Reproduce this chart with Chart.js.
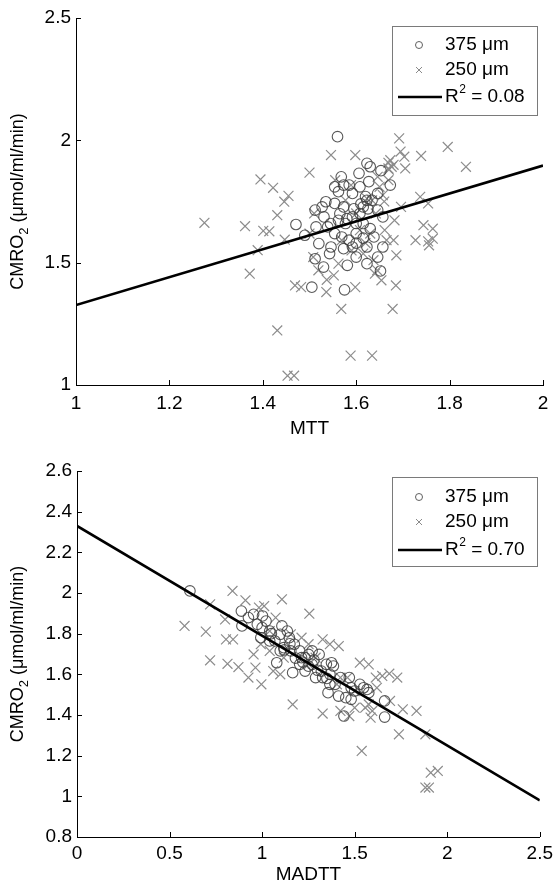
<!DOCTYPE html>
<html>
<head>
<meta charset="utf-8">
<script src="https://cdn.jsdelivr.net/npm/chart.js@4.4.1/dist/chart.umd.min.js"></script>
<style>
  html, body { margin: 0; padding: 0; background: #fff; }
  #wrap { position: relative; width: 558px; height: 888px; }
  canvas { position: absolute; left: 0; }
</style>
</head>
<body>
<div id="wrap">
  <canvas id="chart-mtt" width="558" height="444" style="top:0"></canvas>
  <canvas id="chart-madtt" width="558" height="444" style="top:444px"></canvas>
</div>
<script>
// --- data ---
var legendLabels = ['375 \u03bcm', '250 \u03bcm'];
var r2Values = ['0.08', '0.70'];
var xTitles = ['MTT', 'MADTT'];

var mttTicks = [1, 1.2, 1.4, 1.6, 1.8, 2];
var mttCmroTicks = [1, 1.5, 2, 2.5];
var madttTicks = [0, 0.5, 1, 1.5, 2, 2.5];
var madttCmroTicks = [0.8, 1, 1.2, 1.4, 1.6, 1.8, 2, 2.2, 2.4, 2.6];

// top panel, 375 um (circles)
var mtt375X = [1.560, 1.623, 1.630, 1.606, 1.653, 1.673, 1.627, 1.568, 1.573, 1.554, 1.562, 1.585, 1.592, 1.608,
  1.646, 1.623, 1.615, 1.608, 1.573, 1.554, 1.535, 1.527, 1.512, 1.471, 1.490, 1.514, 1.531, 1.539, 1.562, 1.577,
  1.592, 1.615, 1.630, 1.657, 1.646, 1.520, 1.546, 1.569, 1.573, 1.592, 1.600, 1.623, 1.623, 1.646, 1.657, 1.652,
  1.512, 1.530, 1.581, 1.543, 1.505, 1.575, 1.585, 1.600, 1.554, 1.638, 1.634, 1.595, 1.610, 1.620, 1.600, 1.580,
  1.565, 1.545, 1.600, 1.615, 1.625];
var mtt375Y = [2.015, 1.906, 1.892, 1.865, 1.876, 1.817, 1.831, 1.851, 1.817, 1.810, 1.790, 1.817, 1.783, 1.810,
  1.783, 1.755, 1.728, 1.701, 1.728, 1.742, 1.749, 1.728, 1.715, 1.656, 1.612, 1.646, 1.687, 1.646, 1.673, 1.660,
  1.687, 1.660, 1.639, 1.687, 1.715, 1.578, 1.564, 1.605, 1.557, 1.564, 1.523, 1.564, 1.496, 1.523, 1.564, 1.466,
  1.516, 1.482, 1.489, 1.537, 1.400, 1.389, 1.592, 1.619, 1.619, 1.605, 1.755, 1.720, 1.740, 1.770, 1.660, 1.680,
  1.700, 1.660, 1.580, 1.600, 1.720];

// top panel, 250 um (crosses)
var mtt250X = [1.692, 1.796, 1.835, 1.739, 1.695, 1.703, 1.673, 1.669, 1.705, 1.598, 1.546, 1.500, 1.395, 1.422,
  1.455, 1.446, 1.431, 1.362, 1.275, 1.401, 1.414, 1.447, 1.389, 1.372, 1.469, 1.482, 1.537, 1.536, 1.552, 1.568,
  1.598, 1.519, 1.431, 1.588, 1.634, 1.453, 1.467, 1.678, 1.685, 1.640, 1.654, 1.686, 1.727, 1.754, 1.756, 1.764,
  1.764, 1.744, 1.754, 1.737, 1.682, 1.680, 1.696, 1.665, 1.661, 1.657, 1.650, 1.669, 1.646, 1.669, 1.676, 1.634,
  1.642, 1.623, 1.630, 1.637, 1.645, 1.569, 1.562, 1.508, 1.510, 1.555, 1.589, 1.600, 1.608, 1.577, 1.500, 1.615,
  1.670, 1.680, 1.660, 1.620, 1.590];
var mtt250Y = [2.008, 1.973, 1.892, 1.936, 1.954, 1.933, 1.919, 1.908, 1.885, 1.940, 1.940, 1.868, 1.840, 1.806,
  1.773, 1.749, 1.694, 1.649, 1.663, 1.630, 1.628, 1.594, 1.551, 1.455, 1.407, 1.400, 1.430, 1.380, 1.448, 1.311,
  1.400, 1.469, 1.223, 1.120, 1.120, 1.038, 1.038, 1.311, 1.407, 1.455, 1.428, 1.530, 1.592, 1.587, 1.571, 1.598,
  1.639, 1.653, 1.742, 1.769, 1.673, 1.592, 1.728, 1.592, 1.633, 1.776, 1.810, 1.837, 1.851, 1.885, 1.892, 1.755,
  1.701, 1.762, 1.619, 1.510, 1.469, 1.592, 1.496, 1.523, 1.701, 1.837, 1.817, 1.701, 1.633, 1.755, 1.619, 1.537,
  1.880, 1.900, 1.750, 1.580, 1.550];

// bottom panel, 375 um (circles)
var madtt375X = [0.610, 0.888, 0.891, 0.926, 0.954, 0.974, 1.002, 1.021, 0.993, 1.041, 1.069, 1.098, 1.136, 1.147,
  1.117, 1.079, 1.155, 1.174, 1.203, 1.165, 1.203, 1.232, 1.251, 1.270, 1.289, 1.308, 1.320, 1.347, 1.375, 1.385,
  1.366, 1.366, 1.394, 1.356, 1.423, 1.471, 1.481, 1.452, 1.481, 1.528, 1.548, 1.576, 1.442, 1.662, 1.662, 1.567,
  1.041, 1.098, 1.213, 1.270, 1.107, 1.413, 1.327, 1.232, 1.500, 1.120, 1.180, 1.220, 1.250, 1.150, 1.300, 1.350,
  1.050, 1.000, 1.280];
var madtt375Y = [2.010, 1.911, 1.838, 1.879, 1.895, 1.846, 1.887, 1.862, 1.780, 1.813, 1.764, 1.797, 1.813, 1.780,
  1.731, 1.657, 1.715, 1.748, 1.715, 1.608, 1.649, 1.682, 1.698, 1.649, 1.584, 1.698, 1.616, 1.649, 1.657, 1.641,
  1.600, 1.551, 1.551, 1.510, 1.584, 1.584, 1.534, 1.485, 1.477, 1.551, 1.534, 1.510, 1.395, 1.469, 1.390, 1.526,
  1.764, 1.715, 1.682, 1.715, 1.838, 1.493, 1.584, 1.616, 1.518, 1.720, 1.680, 1.660, 1.640, 1.750, 1.620, 1.580,
  1.800, 1.830, 1.670];

// bottom panel, 250 um (crosses)
var madtt250X = [0.840, 0.581, 0.696, 0.719, 0.800, 0.805, 0.719, 0.813, 0.843, 0.910, 0.872, 0.964, 0.996, 0.954,
  0.993, 1.107, 1.073, 0.983, 1.011, 1.060, 1.098, 1.165, 1.255, 1.327, 1.327, 1.414, 1.366, 1.423, 1.471, 1.528,
  1.576, 1.538, 1.500, 1.557, 1.586, 1.595, 1.620, 1.649, 1.687, 1.730, 1.691, 1.739, 1.760, 1.834, 1.882, 1.911,
  1.949, 1.882, 1.901, 1.576, 1.461, 1.251, 1.213, 1.155, 1.041, 1.289, 1.404, 1.500, 0.926, 1.041, 1.117, 1.614,
  1.423, 1.251];
var madtt250Y = [2.010, 1.838, 1.810, 1.944, 1.870, 1.772, 1.669, 1.652, 1.772, 1.964, 1.636, 1.633, 1.551, 1.698,
  1.748, 1.969, 1.879, 1.928, 1.936, 1.616, 1.600, 1.452, 1.898, 1.772, 1.407, 1.739, 1.748, 1.420, 1.395, 1.657,
  1.649, 1.223, 1.436, 1.436, 1.387, 1.420, 1.534, 1.592, 1.603, 1.584, 1.469, 1.305, 1.428, 1.420, 1.305, 1.116,
  1.125, 1.043, 1.043, 1.452, 1.584, 1.748, 1.780, 1.797, 1.715, 1.682, 1.551, 1.518, 1.584, 1.813, 1.682, 1.584,
  1.584, 1.649];

// fitted lines (end points)
var mttFitX = [1, 2];
var mttFitY = [1.327, 1.897];
var madttFitX = [0, 2.5];
var madttFitY = [2.33, 0.98];

// --- helpers ---
var FONT = "'Liberation Sans', Arial, Helvetica, sans-serif";
var TEXT_SIZE = 19;

function toPoints(xs, ys) {
  return xs.map(function (x, i) { return { x: x, y: ys[i] }; });
}

function fmtTick(v) {
  return String(Number(v.toFixed(2)));
}

function fixedTicks(values) {
  return function (scale) {
    scale.ticks = values.map(function (v) { return { value: v }; });
  };
}

// inward ticks, rotated y title with subscript, boxed legend
var panelDecor = {
  id: 'panelDecor',
  afterDraw: function (chart, args, opts) {
    var ctx = chart.ctx;
    var area = chart.chartArea;
    var xs = chart.scales.x;
    var ys = chart.scales.y;
    ctx.save();

    ctx.strokeStyle = '#000';
    ctx.lineWidth = 1;
    ctx.beginPath();
    xs.ticks.forEach(function (t) {
      var px = Math.round(xs.getPixelForValue(t.value)) + 0.5;
      ctx.moveTo(px, area.bottom);
      ctx.lineTo(px, area.bottom - 5);
    });
    ys.ticks.forEach(function (t) {
      var py = Math.round(ys.getPixelForValue(t.value)) + 0.5;
      ctx.moveTo(area.left, py);
      ctx.lineTo(area.left + 5, py);
    });
    ctx.stroke();

    // y title
    ctx.save();
    ctx.translate(opts.yTitleX, (area.top + area.bottom) / 2);
    ctx.rotate(-Math.PI / 2);
    ctx.fillStyle = '#000';
    ctx.textBaseline = 'middle';
    ctx.textAlign = 'left';
    var big = '18px ' + FONT, small = '13px ' + FONT;
    ctx.font = big;
    var w1 = ctx.measureText('CMRO').width;
    var w3 = ctx.measureText(' (\u03bcmol/ml/min)').width;
    ctx.font = small;
    var w2 = ctx.measureText('2').width;
    var sx = -(w1 + w2 + w3) / 2;
    ctx.font = big;
    ctx.fillText('CMRO', sx, 0);
    ctx.font = small;
    ctx.fillText('2', sx + w1, 6);
    ctx.font = big;
    ctx.fillText(' (\u03bcmol/ml/min)', sx + w1 + w2, 0);
    ctx.restore();

    // legend box
    var lg = opts.legend;
    ctx.fillStyle = '#fff';
    ctx.fillRect(lg.x, lg.y, lg.w, lg.h);
    ctx.strokeStyle = '#7a7a7a';
    ctx.lineWidth = 1;
    ctx.strokeRect(lg.x + 0.5, lg.y + 0.5, lg.w, lg.h);

    var r1 = lg.y + lg.rows[0], r2 = lg.y + lg.rows[1], r3 = lg.y + lg.rows[2];
    ctx.strokeStyle = '#606060';
    ctx.lineWidth = 1;
    ctx.beginPath();
    ctx.arc(lg.markX, r1, 3.5, 0, Math.PI * 2);
    ctx.stroke();
    ctx.strokeStyle = '#8a8a8a';
    ctx.beginPath();
    ctx.moveTo(lg.markX - 3, r2 - 3); ctx.lineTo(lg.markX + 3, r2 + 3);
    ctx.moveTo(lg.markX + 3, r2 - 3); ctx.lineTo(lg.markX - 3, r2 + 3);
    ctx.stroke();
    ctx.strokeStyle = '#000';
    ctx.lineWidth = 2.5;
    ctx.beginPath();
    ctx.moveTo(lg.lineX0, r3);
    ctx.lineTo(lg.lineX1, r3);
    ctx.stroke();

    var txt = TEXT_SIZE + 'px ' + FONT;
    ctx.fillStyle = '#000';
    ctx.textBaseline = 'middle';
    ctx.textAlign = 'left';
    ctx.font = txt;
    ctx.fillText(legendLabels[0], lg.textX, r1);
    ctx.fillText(legendLabels[1], lg.textX, r2);
    var wr = ctx.measureText('R').width;
    ctx.fillText('R', lg.textX, r3);
    ctx.font = '12px ' + FONT;
    var ws = ctx.measureText('2').width;
    ctx.fillText('2', lg.textX + wr + 0.5, r3 - 7);
    ctx.font = txt;
    ctx.fillText(' = ' + opts.r2, lg.textX + wr + ws + 0.5, r3);

    ctx.restore();
  }
};

function makePanel(canvasId, p) {
  var canvas = document.getElementById(canvasId);
  return new Chart(canvas.getContext('2d'), {
    type: 'scatter',
    data: {
      datasets: [
        {
          data: toPoints(p.fitX, p.fitY),
          showLine: true,
          borderColor: '#000',
          borderWidth: 2.6,
          pointRadius: 0,
          order: 0,
        },
        {
          data: toPoints(p.circX, p.circY),
          pointStyle: 'circle',
          pointRadius: 5.3,
          pointBorderWidth: 1.1,
          pointBorderColor: 'rgba(60,60,60,0.85)',
          pointBackgroundColor: 'rgba(0,0,0,0)',
          order: 1,
        },
        {
          data: toPoints(p.crossX, p.crossY),
          pointStyle: 'crossRot',
          pointRadius: 7,
          pointBorderWidth: 1.2,
          pointBorderColor: '#8c8c8c',
          pointBackgroundColor: '#8c8c8c',
          order: 2,
        },
      ],
    },
    options: {
      responsive: false,
      animation: false,
      devicePixelRatio: 1,
      layout: { padding: { left: 0, top: p.padTop, right: p.padRight, bottom: 0 } },
      plugins: {
        legend: { display: false },
        tooltip: { enabled: false },
        panelDecor: { yTitleX: 18, r2: p.r2, legend: p.legend },
      },
      scales: {
        x: {
          type: 'linear',
          min: p.xTicks[0],
          max: p.xTicks[p.xTicks.length - 1],
          afterBuildTicks: fixedTicks(p.xTicks),
          afterFit: function (scale) { scale.height = p.xAxisH; },
          grid: { display: false, drawTicks: false },
          border: { display: true, color: '#000', width: 1 },
          ticks: {
            padding: p.xTickPad,
            maxRotation: 0,
            autoSkip: false,
            color: '#000',
            font: { family: FONT, size: TEXT_SIZE },
            callback: fmtTick,
          },
          title: {
            display: true,
            text: p.xTitle,
            color: '#000',
            font: { family: FONT, size: TEXT_SIZE },
            padding: { top: 0, bottom: p.xTitlePad },
          },
        },
        y: {
          type: 'linear',
          min: p.yTicks[0],
          max: p.yTicks[p.yTicks.length - 1],
          afterBuildTicks: fixedTicks(p.yTicks),
          afterFit: function (scale) { scale.width = p.yAxisW; },
          grid: { display: false, drawTicks: false },
          border: { display: true, color: '#000', width: 1 },
          ticks: {
            padding: 5,
            autoSkip: false,
            color: '#000',
            font: { family: FONT, size: TEXT_SIZE },
            callback: fmtTick,
          },
        },
      },
    },
    plugins: [panelDecor],
  });
}

makePanel('chart-mtt', {
  xTicks: mttTicks, yTicks: mttCmroTicks, xTitle: xTitles[0], r2: r2Values[0],
  circX: mtt375X, circY: mtt375Y, crossX: mtt250X, crossY: mtt250Y,
  fitX: mttFitX, fitY: mttFitY,
  padTop: 18, padRight: 15, yAxisW: 76, xAxisH: 59, xTickPad: 7, xTitlePad: 4,
  legend: { x: 392, y: 26, w: 145, h: 89, rows: [19, 44, 71], markX: 419, textX: 445, lineX0: 398, lineX1: 442 },
});

makePanel('chart-madtt', {
  xTicks: madttTicks, yTicks: madttCmroTicks, xTitle: xTitles[1], r2: r2Values[1],
  circX: madtt375X, circY: madtt375Y, crossX: madtt250X, crossY: madtt250Y,
  fitX: madttFitX, fitY: madttFitY,
  padTop: 27, padRight: 14, yAxisW: 77, xAxisH: 51, xTickPad: 5, xTitlePad: 2,
  legend: { x: 392, y: 33, w: 145, h: 89, rows: [20, 45, 73], markX: 419, textX: 445, lineX0: 398, lineX1: 442 },
});
</script>
</body>
</html>
